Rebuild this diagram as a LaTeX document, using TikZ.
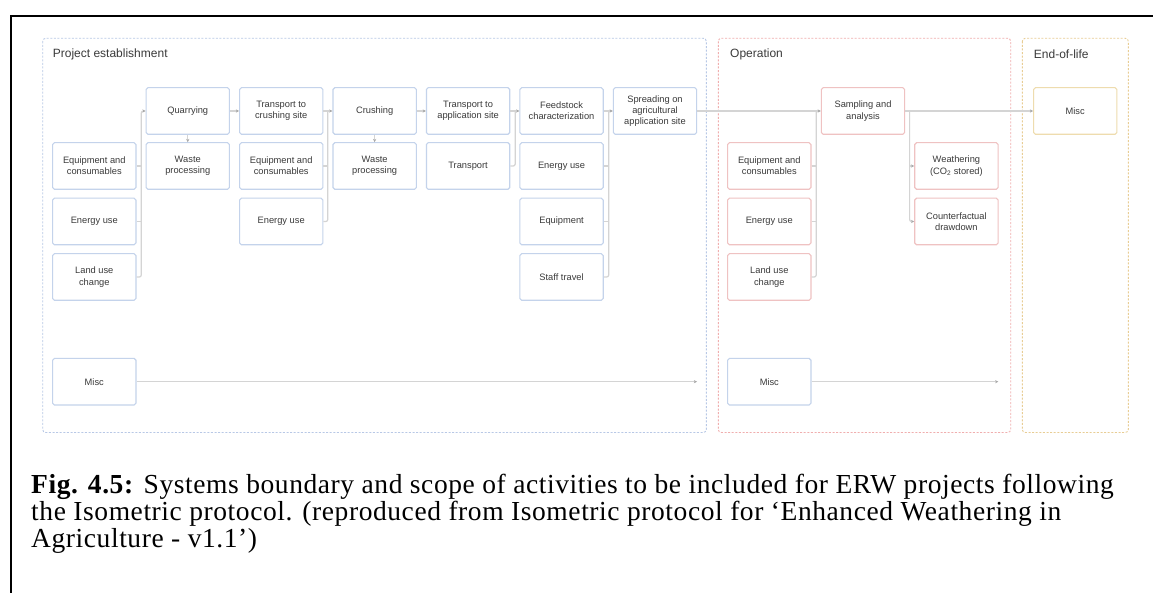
\documentclass[tikz,border=0pt]{standalone}
\usepackage{fontspec}
\setmainfont{Liberation Serif}
\newfontfamily\boxfont{Liberation Sans}
\newfontfamily\capfont[LetterSpace=2.1]{Liberation Serif}
\usetikzlibrary{arrows.meta}

\definecolor{ink}{HTML}{3A3A3A}
\definecolor{boxblue}{HTML}{C4D3EB}
\definecolor{boxred}{HTML}{EFC2C2}
\definecolor{boxyellow}{HTML}{EEDCAE}
\definecolor{zoneblue}{HTML}{B8C8E6}
\definecolor{zonered}{HTML}{F0AEAE}
\definecolor{zoneyellow}{HTML}{E8CD94}
\definecolor{linegray}{HTML}{D4D4D4}
\definecolor{tipgray}{HTML}{A8A8A8}

\tikzset{
  box/.style={draw, rounded corners=1.8pt, line width=1.1pt,
    minimum width=83.3pt, minimum height=46.6pt, inner sep=1pt,
    align=center, text=ink, font=\boxfont\fontsize{9.3}{11.3}\selectfont},
  bbox/.style={box, draw=boxblue},
  rbox/.style={box, draw=boxred},
  ybox/.style={box, draw=boxyellow},
  zone/.style={dash pattern=on 2pt off 1.6pt, line width=0.9pt, rounded corners=3pt},
  zonetitle/.style={anchor=west, inner sep=0, text=ink,
    font=\boxfont\fontsize{12}{14}\selectfont},
  conn/.style={draw=linegray, line width=1.2pt, rounded corners=2pt},
  arr/.style={conn, -{Stealth[length=3.2pt, width=3.2pt, color=tipgray]}}
}

\begin{document}
\begin{tikzpicture}[x=1pt, y=-1pt]
\useasboundingbox (0,0) rectangle (1153,593);
\fill[white] (0,0) rectangle (1153,593);

% table cell frame
\draw[line width=1.8pt] (1153,15.7) -- (11,15.7) -- (11,593);

% phase zones
\draw[zone, draw=zoneblue] (42.7,38.3) rectangle (706.3,432.5);
\draw[zone, draw=zonered] (718.3,38.3) rectangle (1010.7,432.5);
\draw[zone, draw=zoneyellow] (1022.3,38.3) rectangle (1128.3,432.5);
\node[zonetitle] (tpe) at (52.7,54.3) {Project establishment};
\node[zonetitle] (top) at (730,54.3) {Operation};
\node[zonetitle] (teol) at (1033.7,54.3) {End-of-life};

% project establishment
\node[bbox] (eq0) at (94.3,166) {Equipment and\\consumables};
\node[bbox] (en0) at (94.3,221.5) {Energy use};
\node[bbox] (luc0) at (94.3,277) {Land use\\change};
\node[bbox] (misc0) at (94.3,381.7) {Misc};
\node[bbox] (quar) at (187.75,111) {Quarrying};
\node[bbox] (waste1) at (187.75,166) {Waste\\processing};
\node[bbox] (tcs) at (281.2,111) {Transport to\\crushing site};
\node[bbox] (eq2) at (281.2,166) {Equipment and\\consumables};
\node[bbox] (en2) at (281.2,221.5) {Energy use};
\node[bbox] (crush) at (374.65,111) {Crushing};
\node[bbox] (waste3) at (374.65,166) {Waste\\processing};
\node[bbox] (tas) at (468.1,111) {Transport to\\application site};
\node[bbox] (trans) at (468.1,166) {Transport};
\node[bbox] (feed) at (561.55,111) {Feedstock\\characterization};
\node[bbox] (en5) at (561.55,166) {Energy use};
\node[bbox] (equip5) at (561.55,221.5) {Equipment};
\node[bbox] (staff) at (561.55,277) {Staff travel};
\node[bbox] (spread) at (655,111) {Spreading on\\agricultural\\application site};

% operation
\node[rbox] (samp) at (863,111) {Sampling and\\analysis};
\node[rbox] (eq7) at (769.3,166) {Equipment and\\consumables};
\node[rbox] (en7) at (769.3,221.5) {Energy use};
\node[rbox] (luc7) at (769.3,277) {Land use\\change};
\node[rbox] (weath) at (956.4,166) {Weathering\\(CO\textsubscript{2} stored)};
\node[rbox] (cfd) at (956.4,221.5) {Counterfactual\\drawdown};
\node[bbox] (misc7) at (769.3,381.7) {Misc};

% end of life
\node[ybox] (misc10) at (1075.2,111) {Misc};

% collector buses
\coordinate (bA) at (141.3,0);
\coordinate (bB) at (327.8,0);
\coordinate (bC) at (515.2,0);
\coordinate (bD) at (608.7,0);
\coordinate (bE) at (816.2,0);
\coordinate (bF) at (909.6,0);
\coordinate (endA) at (697,381.7);
\coordinate (endB) at (998.3,381.7);

% flows
\draw[conn] (eq0.east) -- (eq0.east -| bA);
\draw[conn] (en0.east) -- (en0.east -| bA);
\draw[arr] (luc0.east) -| (bA |- quar) -- (quar.west);
\draw[arr] (quar.south) -- (waste1.north);
\draw[arr] (quar.east) -- (tcs.west);

\draw[conn] (eq2.east) -- (eq2.east -| bB);
\draw[conn] (en2.east) -| (bB |- tcs);
\draw[arr] (tcs.east) -- (crush.west);
\draw[arr] (crush.south) -- (waste3.north);
\draw[arr] (crush.east) -- (tas.west);

\draw[conn] (trans.east) -| (bC |- tas);
\draw[arr] (tas.east) -- (feed.west);

\draw[conn] (en5.east) -- (en5.east -| bD);
\draw[conn] (equip5.east) -- (equip5.east -| bD);
\draw[conn] (staff.east) -| (bD |- feed);
\draw[arr] (feed.east) -- (spread.west);

\draw[arr] (spread.east) -- (samp.west);
\draw[conn] (eq7.east) -- (eq7.east -| bE);
\draw[conn] (en7.east) -- (en7.east -| bE);
\draw[conn] (luc7.east) -| (bE |- samp);

\draw[arr] (samp.east) -- (misc10.west);
\draw[arr] (bF |- samp) |- (cfd.west);
\draw[arr] (weath.west -| bF) -- (weath.west);

\draw[arr] (misc0.east) -- (endA);
\draw[arr] (misc7.east) -- (endB);

% caption (base anchor sits on the last line)
\node[anchor=base west, align=left, inner sep=0,
  font=\capfont\fontsize{27.5}{27}\selectfont] (cap) at (31,547)
  {\textbf{Fig. 4.5:} Systems boundary and scope of activities to be included for ERW projects following\\
   the Isometric protocol. (reproduced from Isometric protocol for ‘Enhanced Weathering in\\
   Agriculture - v1.1’)};
\end{tikzpicture}
\end{document}
